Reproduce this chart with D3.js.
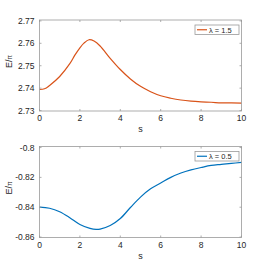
<!DOCTYPE html>
<html>
<head>
<meta charset="utf-8">
<script src="https://cdn.jsdelivr.net/npm/d3@7"></script>
<style>
  body { margin: 0; background: #fff; }
  svg text { font-family: "Liberation Sans", Arial, sans-serif; fill: #262626; }
</style>
</head>
<body>
<script>
var w = 267, h = 267;

// lambda = 1.5
var sTop = [0, 0.25, 0.5, 1, 1.5, 1.75, 2, 2.2, 2.45, 2.7, 3, 3.5, 4, 4.5, 5, 5.5, 6, 6.5, 7, 7.5, 8, 8.5, 9, 9.5, 10];
var eTop = [2.7394, 2.7397, 2.7412, 2.7452, 2.7509, 2.7547, 2.7580, 2.7601, 2.7616, 2.7610, 2.7588, 2.7533, 2.7483, 2.7441, 2.7408,
            2.7384, 2.7366, 2.7355, 2.7347, 2.7342, 2.7339, 2.7337, 2.7334, 2.7334, 2.7333];
// lambda = 0.5
var sBot = [0, 0.5, 1, 1.5, 2, 2.5, 2.8, 3, 3.5, 4, 4.5, 5, 5.5, 6, 6.5, 7, 7.5, 8, 8.5, 9, 9.5, 10];
var eBot = [-0.8400, -0.8407, -0.8430, -0.8470, -0.8516, -0.8542, -0.8549, -0.8547, -0.8523, -0.8476, -0.8402,
            -0.8332, -0.8277, -0.8238, -0.8200, -0.8171, -0.8150, -0.8134, -0.8120, -0.8113, -0.8106, -0.8100];

var xTicks = [0, 2, 4, 6, 8, 10];
var topTicks = [2.73, 2.74, 2.75, 2.76, 2.77];
var botTicks = [-0.86, -0.84, -0.82, -0.8];

var svg = d3.select("body").append("svg").attr("width", w).attr("height", h);

function panel(top, bottom, xs, ys, domain, ticks, fmt, color, label) {
    var left = 39.5, right = 241.5;
    var x = d3.scaleLinear().domain([0, 10]).range([left, right]);
    var y = d3.scaleLinear().domain(domain).range([bottom, top]);
    var g = svg.append("g");

    var line = d3.line()
        .x(function(d) { return x(d[0]); })
        .y(function(d) { return y(d[1]); })
        .curve(d3.curveCatmullRom.alpha(0.5));
    g.append("path")
        .datum(xs.map(function(s, i) { return [s, ys[i]]; }))
        .attr("d", line)
        .attr("fill", "none")
        .attr("stroke", color)
        .attr("stroke-width", 1.2);

    // box
    g.append("rect").attr("x", left).attr("y", top)
        .attr("width", right - left).attr("height", bottom - top)
        .attr("fill", "none").attr("stroke", "#9a9a9a").attr("stroke-width", 0.8);

    // x ticks (inside, mirrored)
    xTicks.forEach(function(t) {
        var px = x(t);
        g.append("line").attr("x1", px).attr("x2", px).attr("y1", bottom).attr("y2", bottom - 2)
            .attr("stroke", "#9a9a9a").attr("stroke-width", 0.8);
        g.append("line").attr("x1", px).attr("x2", px).attr("y1", top).attr("y2", top + 2)
            .attr("stroke", "#9a9a9a").attr("stroke-width", 0.8);
        g.append("text").attr("x", px).attr("y", bottom + 10)
            .attr("text-anchor", "middle").attr("font-size", 8.5).text(t);
    });
    ticks.forEach(function(t) {
        var py = y(t);
        g.append("line").attr("x1", left).attr("x2", left + 2).attr("y1", py).attr("y2", py)
            .attr("stroke", "#9a9a9a").attr("stroke-width", 0.8);
        g.append("line").attr("x1", right).attr("x2", right - 2).attr("y1", py).attr("y2", py)
            .attr("stroke", "#9a9a9a").attr("stroke-width", 0.8);
        g.append("text").attr("x", left - 5).attr("y", py + 3)
            .attr("text-anchor", "end").attr("font-size", 8.5).text(fmt(t));
    });

    // axis labels
    g.append("text").attr("x", (left + right) / 2).attr("y", bottom + 21)
        .attr("text-anchor", "middle").attr("font-size", 9).text("s");
    var yl = g.append("text")
        .attr("transform", "translate(12," + ((top + bottom) / 2 - 4) + ") rotate(-90)")
        .attr("text-anchor", "middle").attr("font-size", 9);
    yl.append("tspan").text("E/");
    yl.append("tspan").attr("font-size", 6.5).text("π");

    // legend
    var lx = 195, ly = top + 5;
    g.append("rect").attr("x", lx).attr("y", ly).attr("width", 44).attr("height", 9.5)
        .attr("fill", "#fff").attr("stroke", "#9a9a9a").attr("stroke-width", 0.8);
    g.append("line").attr("x1", lx + 2).attr("x2", lx + 12).attr("y1", ly + 4.75).attr("y2", ly + 4.75)
        .attr("stroke", color).attr("stroke-width", 1.2);
    g.append("text").attr("x", lx + 14).attr("y", ly + 7.6).attr("font-size", 7.5).text(label);
}

panel(20, 111, sTop, eTop, [2.7298, 2.7704], topTicks, function(v) { return v.toFixed(2); },
      "#d95319", "λ = 1.5");
panel(146.5, 237.5, sBot, eBot, [-0.8603, -0.7993], botTicks, function(v) { return String(v); },
      "#0072bd", "λ = 0.5");
</script>
</body>
</html>
